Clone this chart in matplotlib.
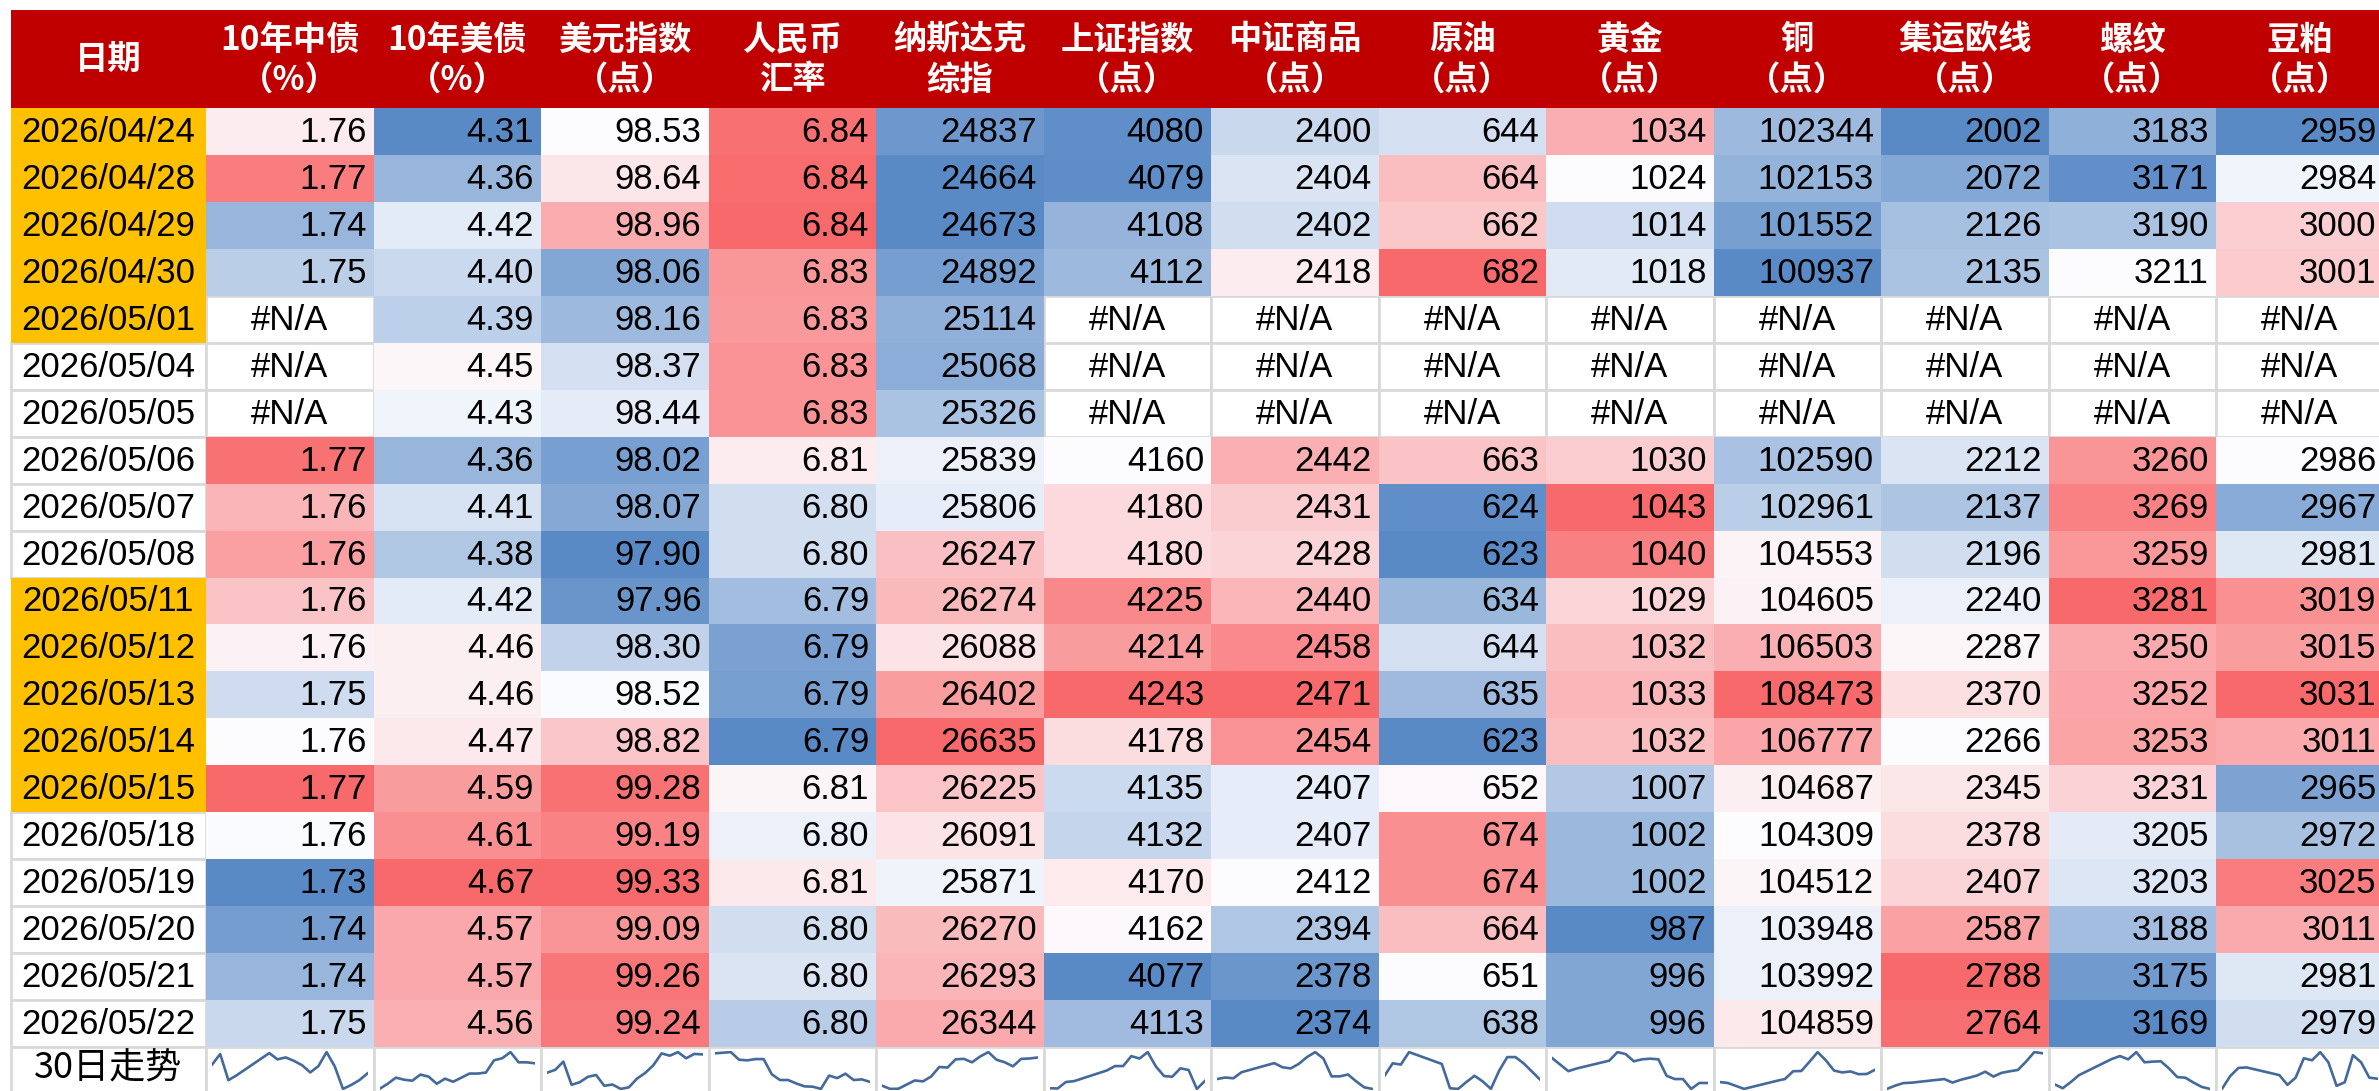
import numpy as np
import matplotlib
matplotlib.use('Agg')
import matplotlib.pyplot as plt
from matplotlib.patches import Rectangle
from matplotlib.colors import LinearSegmentedColormap, TwoSlopeNorm

nan = np.nan

dates = ['2026/04/24', '2026/04/28', '2026/04/29', '2026/04/30', '2026/05/01',
         '2026/05/04', '2026/05/05', '2026/05/06', '2026/05/07', '2026/05/08',
         '2026/05/11', '2026/05/12', '2026/05/13', '2026/05/14', '2026/05/15',
         '2026/05/18', '2026/05/19', '2026/05/20', '2026/05/21', '2026/05/22']
# dates with the orange marker in the first column
highlight_dates = ['2026/04/24', '2026/04/28', '2026/04/29', '2026/04/30', '2026/05/01',
                   '2026/05/11', '2026/05/12', '2026/05/13', '2026/05/14', '2026/05/15']

headers = ['10年中债\n（%）', '10年美债\n（%）', '美元指数\n（点）', '人民币\n汇率', '纳斯达克\n综指',
           '上证指数\n（点）', '中证商品\n（点）', '原油\n（点）', '黄金\n（点）', '铜\n（点）',
           '集运欧线\n（点）', '螺纹\n（点）', '豆粕\n（点）']
decimals = [2, 2, 2, 2, 0, 0, 0, 0, 0, 0, 0, 0, 0]

cn10y = [1.757, 1.768, 1.741, 1.746, nan, nan, nan, 1.769, 1.7625, 1.7645,
         1.761, 1.7565, 1.749, 1.7555, 1.770, 1.7552, 1.732, 1.736, 1.741, 1.748]
us10y = [4.31, 4.36, 4.42, 4.40, 4.39, 4.45, 4.43, 4.36, 4.41, 4.38,
         4.42, 4.46, 4.46, 4.47, 4.59, 4.61, 4.67, 4.57, 4.57, 4.56]
dxy = [98.53, 98.64, 98.96, 98.06, 98.16, 98.37, 98.44, 98.02, 98.07, 97.90,
       97.96, 98.30, 98.52, 98.82, 99.28, 99.19, 99.33, 99.09, 99.26, 99.24]
cny = [6.842, 6.843, 6.844, 6.832, 6.831, 6.833, 6.833, 6.809, 6.800, 6.800,
       6.7945, 6.790, 6.7895, 6.786, 6.807, 6.803, 6.810, 6.800, 6.801, 6.797]
nasdaq = [24837, 24664, 24673, 24892, 25114, 25068, 25326, 25839, 25806, 26247,
          26274, 26088, 26402, 26635, 26225, 26091, 25871, 26270, 26293, 26344]
sse = [4080, 4079, 4108, 4112, nan, nan, nan, 4160, 4180, 4180,
       4225, 4214, 4243, 4178, 4135, 4132, 4170, 4162, 4077, 4113]
csi_comm = [2400, 2404, 2402, 2418, nan, nan, nan, 2442, 2431, 2428,
            2440, 2458, 2471, 2454, 2407, 2407, 2412, 2394, 2378, 2374]
crude = [644, 664, 662, 682, nan, nan, nan, 663, 624, 623,
         634, 644, 635, 623, 652, 674, 674, 664, 651, 638]
gold = [1034, 1024, 1014, 1018, nan, nan, nan, 1030, 1043, 1040,
        1029, 1032, 1033, 1032, 1007, 1002, 1002, 987, 996, 996]
copper = [102344, 102153, 101552, 100937, nan, nan, nan, 102590, 102961, 104553,
          104605, 106503, 108473, 106777, 104687, 104309, 104512, 103948, 103992, 104859]
container = [2002, 2072, 2126, 2135, nan, nan, nan, 2212, 2137, 2196,
             2240, 2287, 2370, 2266, 2345, 2378, 2407, 2587, 2788, 2764]
rebar = [3183, 3171, 3190, 3211, nan, nan, nan, 3260, 3269, 3259,
         3281, 3250, 3252, 3253, 3231, 3205, 3203, 3188, 3175, 3169]
soymeal = [2959, 2984, 3000, 3001, nan, nan, nan, 2986, 2967, 2981,
           3019, 3015, 3031, 3011, 2965, 2972, 3025, 3011, 2981, 2979]

columns = [cn10y, us10y, dxy, cny, nasdaq, sse, csi_comm, crude, gold,
           copper, container, rebar, soymeal]

# ---- layout (pixels) ----
W, H = 2379, 1091
X0, Y0 = 11, 10
DATE_W = 195
COL_W = 167.5
HEAD_H = 98
ROW_H = 46.95

NUM_FONT = 'Liberation Sans'
CJK = ['Noto Sans CJK SC', 'DejaVu Sans']
FS = 25

cmap = LinearSegmentedColormap.from_list('excel3', ['#5A8AC6', '#FCFCFF', '#F8696B'])
GRID = '#D9D9D9'

fig = plt.figure(figsize=(W / 100, H / 100), dpi=100)
ax = fig.add_axes([0, 0, 1, 1])
ax.set_xlim(0, W)
ax.set_ylim(H, 0)
ax.axis('off')

n_rows = len(dates)
n_cols = len(columns)
col_x = [X0 + DATE_W + i * COL_W for i in range(n_cols)]
total_w = DATE_W + n_cols * COL_W

# header
ax.add_patch(Rectangle((X0, Y0), total_w, HEAD_H, facecolor='#C00000', edgecolor='none'))
ax.text(X0 + DATE_W / 2, Y0 + HEAD_H / 2, '日期', color='white', fontsize=24,
        fontweight='bold', family=CJK, ha='center', va='center')
for i, h in enumerate(headers):
    l1, l2 = h.split('\n')
    cx = col_x[i] + COL_W / 2
    ax.text(cx, Y0 + 30, l1, color='white', fontsize=24, fontweight='bold',
            family=CJK, ha='center', va='center')
    ax.text(cx, Y0 + 70, l2, color='white', fontsize=24, fontweight='bold',
            family=CJK, ha='center', va='center')

y_body = Y0 + HEAD_H

# date column
for r, d in enumerate(dates):
    y = y_body + r * ROW_H
    if d in highlight_dates:
        ax.add_patch(Rectangle((X0, y), DATE_W, ROW_H, facecolor='#FFC000', edgecolor='none', zorder=2))
    else:
        ax.add_patch(Rectangle((X0, y), DATE_W, ROW_H, facecolor='white', edgecolor=GRID, lw=2, zorder=1))
    ax.text(X0 + DATE_W / 2, y + ROW_H / 2 + 1, d, fontsize=FS, family=NUM_FONT,
            ha='center', va='center', zorder=3)

# value cells with 3-colour scale (min blue, median white, max red)
for c, vals in enumerate(columns):
    v = np.array(vals, dtype=float)
    norm = TwoSlopeNorm(vmin=np.nanmin(v), vcenter=np.nanmedian(v), vmax=np.nanmax(v))
    for r in range(n_rows):
        x = col_x[c]
        y = y_body + r * ROW_H
        if np.isnan(v[r]):
            ax.add_patch(Rectangle((x, y), COL_W, ROW_H, facecolor='white', edgecolor=GRID, lw=2, zorder=1))
            ax.text(x + COL_W / 2, y + ROW_H / 2 + 1, '#N/A', fontsize=FS, family=NUM_FONT,
                    ha='center', va='center', zorder=3)
        else:
            ax.add_patch(Rectangle((x, y), COL_W, ROW_H, facecolor=cmap(norm(v[r])),
                                   edgecolor='none', zorder=2))
            ax.text(x + COL_W - 7, y + ROW_H / 2 + 1, f'{v[r]:.{decimals[c]}f}', fontsize=FS,
                    family=NUM_FONT, ha='right', va='center', zorder=3)

# sparkline row
y_sp = y_body + n_rows * ROW_H
ax.add_patch(Rectangle((X0, y_sp), DATE_W, ROW_H, facecolor='white', edgecolor=GRID, lw=2, zorder=1))
ax.text(X0 + DATE_W / 2, y_sp + ROW_H / 2 - 2, '30日走势', fontsize=26, family=CJK,
        ha='center', va='center', zorder=3)
for c, vals in enumerate(columns):
    x = col_x[c]
    ax.add_patch(Rectangle((x, y_sp), COL_W, ROW_H, facecolor='white', edgecolor=GRID, lw=2, zorder=1))
    v = np.array(vals, dtype=float)
    idx = np.arange(len(v))
    ok = ~np.isnan(v)
    sx0, sx1 = x + 6, x + COL_W - 6
    sy0, sy1 = y_sp + 4, H - 1
    sax = fig.add_axes([sx0 / W, 1 - sy1 / H, (sx1 - sx0) / W, (sy1 - sy0) / H])
    sax.plot(idx[ok], v[ok], color='#44699B', lw=1.9, solid_joinstyle='round')
    sax.set_xlim(0, len(v) - 1)
    pad = (np.nanmax(v) - np.nanmin(v)) * 0.03
    sax.set_ylim(np.nanmin(v) - pad, np.nanmax(v) + pad)
    sax.axis('off')

fig.savefig('out.png', dpi=100)
